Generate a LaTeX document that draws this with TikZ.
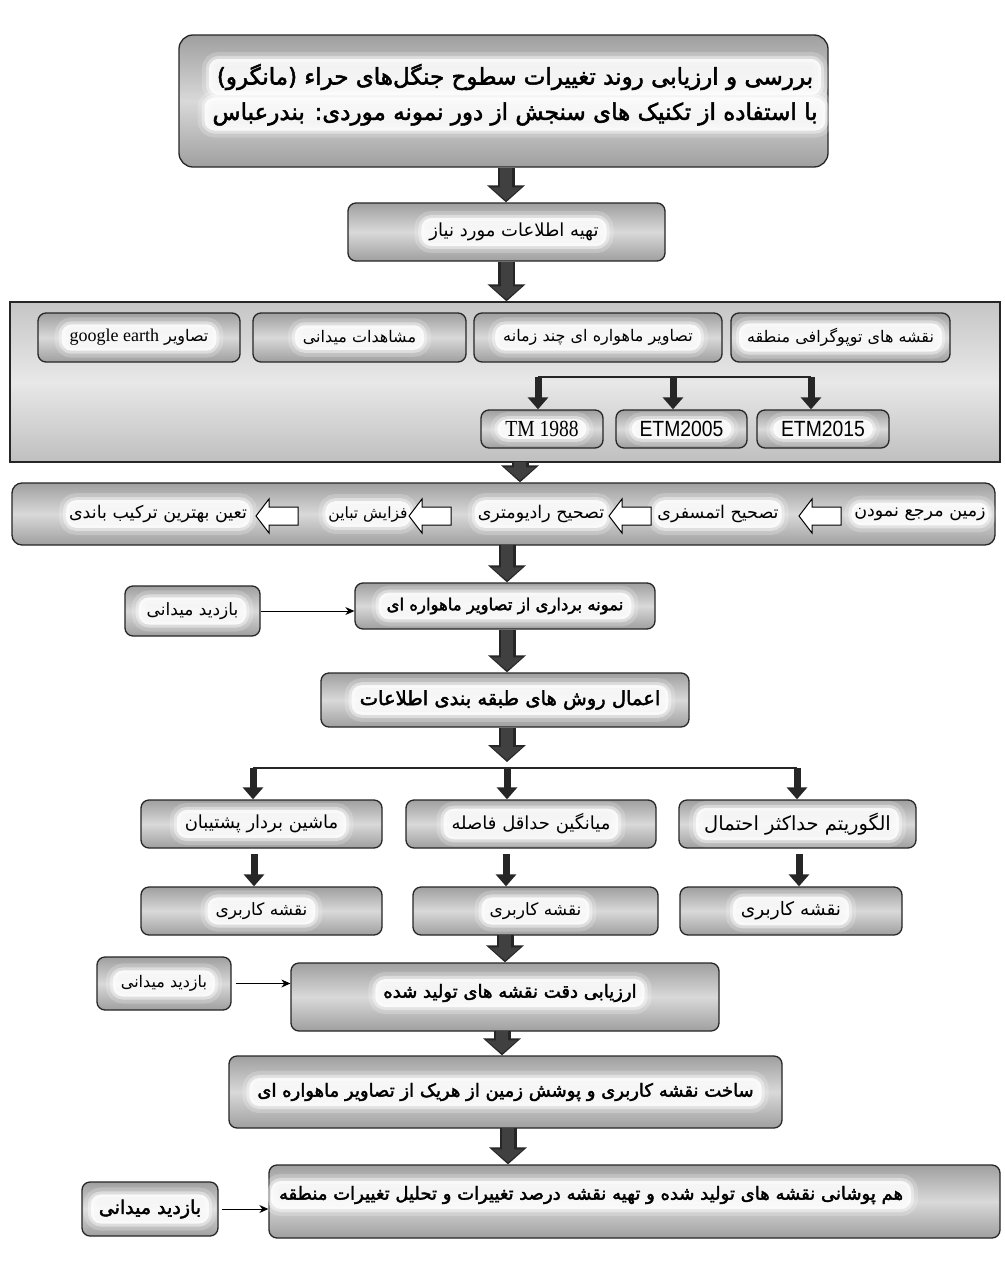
\documentclass[tikz,border=0pt]{standalone}
\usepackage{fontspec}
\usetikzlibrary{arrows.meta,calc}
\TeXXeTstate=1
\newfontfamily\arabicfont[Script=Arabic]{DejaVu Sans}
\newfontfamily\arabicbold[Script=Arabic,FakeBold=2.2]{DejaVu Sans}
\newfontfamily\latserif{Liberation Serif}
\newfontfamily\latsans{Liberation Sans}
\newcommand\fa[1]{{\arabicfont\beginR #1\endR}}
\newcommand\fab[1]{{\arabicbold\beginR #1\endR}}
\newcommand\fs[1]{\fontsize{#1}{#1}\selectfont}
\tikzset{
  box/.style={draw=black!85, line width=1.3pt, rounded corners=8pt,
    top color=gray!75, bottom color=gray!75, middle color=gray!30, inner sep=0pt},
  glow/.style={fill=white, fill opacity=0.82, text opacity=1, draw=white, draw opacity=0.4,
    line width=6pt, rounded corners=10pt, inner xsep=8pt, inner ysep=5pt, text=black,
    preaction={fill=none, draw=white, draw opacity=0.2, line width=14pt}},
  bigout/.style={line width=17pt, black!85, -{Triangle[width=37pt,length=17pt]}},
  bigin/.style={line width=12pt, gray!50!black, shorten >=2pt, -{Triangle[width=30pt,length=13pt]}},
  smallarrow/.style={line width=7pt, black!85, -{Triangle[width=20pt,length=12pt]}},
  thinarrow/.style={line width=0.9pt, black, -{Stealth[length=9pt,width=8pt]}},
  branch/.style={line width=1.4pt, black!85},
  hollowarrow/.pic={\draw[fill=white, line width=1pt, line join=miter]
    (-21,0) -- (-8,-17) -- (-8,-9) -- (21,-9) -- (21,9) -- (-8,9) -- (-8,17) -- cycle;}
}
\newcommand\bigarrow[2]{\draw[bigout] (#1) -- (#2); \draw[bigin] (#1) -- (#2);}
\begin{document}
\begin{tikzpicture}[x=1pt,y=-1pt]
\useasboundingbox (0,0) rectangle (1004,1261);
\fill[white] (0,0) rectangle (1004,1261);

% ---------- title ----------
\node[box, rounded corners=14pt, minimum width=649pt, minimum height=132pt] (title) at (503.5,101) {};
\node[glow, font=\fs{23}, minimum width=600pt] (title1) at (515,77) {\fab{بررسی و ارزیابی روند تغییرات سطوح جنگل‌های حراء (مانگرو)}};
\node[glow, font=\fs{23}, minimum width=600pt] (title2) at (515,114) {\fab{با استفاده از تکنیک های سنجش از دور  نمونه موردی: بندرعباس}};

% ---------- box 2 ----------
\node[box, minimum width=317pt, minimum height=58pt] (need) at (506.5,232) {};
\node[glow, font=\fs{18}] (needt) at (514,232) {\fa{تهیه اطلاعات مورد نیاز}};

% ---------- panel ----------
\node[draw=black!85, line width=1.3pt, top color=gray!45, bottom color=gray!50, middle color=gray!18,
      minimum width=990pt, minimum height=160pt, inner sep=0pt] (panel) at (505,382) {};
\node[box, minimum width=202pt, minimum height=49pt] (pg) at (139,337.5) {};
\node[box, minimum width=213pt, minimum height=49pt] (pm) at (359.5,337.5) {};
\node[box, minimum width=248pt, minimum height=49pt] (ps) at (598,337.5) {};
\node[box, minimum width=219pt, minimum height=49pt] (pn) at (840.5,337.5) {};
\node[glow, font=\fs{16}] (pgt) at (pg) {\fa{تصاویر \beginL{\latserif\fs{18}google earth}\endL}};
\node[glow, font=\fs{16}] (pmt) at (pm) {\fa{مشاهدات میدانی}};
\node[glow, font=\fs{16}] (pst) at (ps) {\fa{تصاویر ماهواره ای چند زمانه}};
\node[glow, font=\fs{16}] (pnt) at (pn) {\fa{نقشه های توپوگرافی منطقه}};

\node[box, minimum width=122pt, minimum height=38pt] (tm1) at (542,429) {};
\node[box, minimum width=131pt, minimum height=38pt] (tm2) at (681.5,429) {};
\node[box, minimum width=132pt, minimum height=38pt] (tm3) at (823,429) {};
\node[glow, font=\latserif\fs{23}, inner ysep=2pt] (tm1t) at (tm1) {\scalebox{0.85}[1]{TM 1988}};
\node[glow, font=\latsans\fs{22}, inner ysep=2pt] (tm2t) at (tm2) {\scalebox{0.88}[1]{ETM2005}};
\node[glow, font=\latsans\fs{22}, inner ysep=2pt] (tm3t) at (tm3) {\scalebox{0.88}[1]{ETM2015}};
\coordinate (ba) at (538,377);
\coordinate (bb) at (673,377);
\coordinate (bc) at (811,377);
\draw[branch] (ba) -- (bc);
\draw[smallarrow] (ba) -- (ba |- tm1.north);
\draw[smallarrow] (bb) -- (bb |- tm2.north);
\draw[smallarrow] (bc) -- (bc |- tm3.north);

% ---------- band ----------
\node[box, rounded corners=10pt, minimum width=983pt, minimum height=62pt] (band) at (503.5,514) {};
\node[glow, font=\fs{17.5}, inner xsep=3pt] (z1) at (920,514) {\fa{زمین مرجع نمودن}};
\node[glow, font=\fs{17.5}, inner xsep=3pt] (z2) at (718,514) {\fa{تصحیح اتمسفری}};
\node[glow, font=\fs{17.5}, inner xsep=3pt] (z3) at (541,514) {\fa{تصحیح رادیومتری}};
\node[glow, font=\fs{15.5}, inner xsep=3pt] (z4) at (368,514) {\fa{فزایش تباین}};
\node[glow, font=\fs{17.5}, inner xsep=3pt] (z5) at (158,514) {\fa{تعین بهترین ترکیب باندی}};
\pic (h1) at (820,516) {hollowarrow};
\pic (h2) at (630,516) {hollowarrow};
\pic (h3) at (430,516) {hollowarrow};
\pic (h4) at (277,516) {hollowarrow};

% ---------- sampling ----------
\node[box, minimum width=135pt, minimum height=50pt] (v1) at (192.5,611) {};
\node[glow, font=\fs{17}] (v1t) at (v1) {\fa{بازدید میدانی}};
\node[box, minimum width=300pt, minimum height=46pt] (samp) at (505,606) {};
\node[glow, font=\fs{16.5}] (sampt) at (samp) {\fab{نمونه برداری از تصاویر ماهواره ای}};
\node[box, minimum width=368pt, minimum height=54pt] (cls) at (505,700) {};
\node[glow, font=\fs{19.5}] (clst) at (510,700) {\fab{اعمال روش های طبقه بندی اطلاعات}};

% ---------- methods ----------
\node[box, minimum width=241pt, minimum height=48pt] (m1) at (261.5,824) {};
\node[box, minimum width=250pt, minimum height=48pt] (m2) at (531,824) {};
\node[box, minimum width=237pt, minimum height=48pt] (m3) at (797.5,824) {};
\node[glow, font=\fs{18}] (m1t) at (m1) {\fa{ماشین بردار پشتیبان}};
\node[glow, font=\fs{18}] (m2t) at (m2) {\fa{میانگین حداقل فاصله}};
\node[glow, font=\fs{19.5}] (m3t) at (m3) {\fa{الگوریتم حداکثر احتمال}};
\node[box, minimum width=241pt, minimum height=48pt] (u1) at (261.5,911) {};
\node[box, minimum width=245pt, minimum height=48pt] (u2) at (535.5,911) {};
\node[box, minimum width=222pt, minimum height=48pt] (u3) at (791,911) {};
\node[glow, font=\fs{17}] (u1t) at (u1) {\fa{نقشه کاربری}};
\node[glow, font=\fs{17}] (u2t) at (u2) {\fa{نقشه کاربری}};
\node[glow, font=\fs{18.5}] (u3t) at (u3) {\fa{نقشه کاربری}};
\coordinate (la) at (253,768);
\coordinate (lb) at (507,768);
\coordinate (lc) at (797,768);
\draw[branch] (la) -- (lc);
\draw[smallarrow] (la) -- (la |- m1.north);
\draw[smallarrow] (lb) -- (lb |- m2.north);
\draw[smallarrow] (lc) -- (lc |- m3.north);
\coordinate (qa) at (254,848);
\coordinate (qb) at (506,848);
\coordinate (qc) at (799,848);
\draw[smallarrow] ([yshift=-6pt]qa) -- (qa |- u1.north);
\draw[smallarrow] ([yshift=-6pt]qb) -- (qb |- u2.north);
\draw[smallarrow] ([yshift=-6pt]qc) -- (qc |- u3.north);

% ---------- evaluation ----------
\node[box, minimum width=134pt, minimum height=53pt] (v2) at (164,983.5) {};
\node[glow, font=\fs{16}] (v2t) at (v2) {\fa{بازدید میدانی}};
\node[box, minimum width=428pt, minimum height=68pt] (eval) at (505,997) {};
\node[glow, font=\fs{18}] (evalt) at (510,993) {\fab{ارزیابی دقت نقشه های تولید شده}};
\node[box, minimum width=553pt, minimum height=72pt] (build) at (505.5,1092) {};
\node[glow, font=\fs{18}] (buildt) at (build) {\fab{ساخت نقشه کاربری و پوشش زمین از هریک از تصاویر ماهواره ای}};
\node[box, minimum width=136pt, minimum height=54pt] (v3) at (150,1209) {};
\node[glow, font=\fs{19}] (v3t) at (v3) {\fab{بازدید میدانی}};
\node[box, minimum width=731pt, minimum height=73pt] (fin) at (634.5,1201.5) {};
\node[glow, font=\fs{18}] (fint) at (591,1195) {\fab{هم پوشانی نقشه های تولید شده و تهیه نقشه درصد تغییرات و تحلیل تغییرات منطقه}};

% ---------- thin arrows ----------
\draw[thinarrow] (v1.east) -- (v1.east -| samp.west);
\draw[thinarrow] ([xshift=4pt]v2.east) -- (v2.east -| eval.west);
\draw[thinarrow] ([xshift=3pt]v3.east) -- (v3.east -| fin.west);

% ---------- big arrows ----------
\coordinate (a1) at (506,168);
\bigarrow{title.south -| a1}{need.north -| a1}
\bigarrow{need.south}{need.south |- panel.north}
\coordinate (a3) at (520,462);
\bigarrow{a3}{a3 |- band.north}
\coordinate (a4) at (507,545);
\bigarrow{a4}{a4 |- samp.north}
\bigarrow{samp.south -| a4}{cls.north -| a4}
\coordinate (a5) at (507,762);
\bigarrow{cls.south -| a5}{a5}
\coordinate (a6) at (505,935);
\bigarrow{a6}{a6 |- eval.north}
\coordinate (a7) at (502,1031);
\bigarrow{a7}{a7 |- build.north}
\coordinate (a8) at (508,1128);
\bigarrow{a8}{a8 |- fin.north}
\end{tikzpicture}
\end{document}
